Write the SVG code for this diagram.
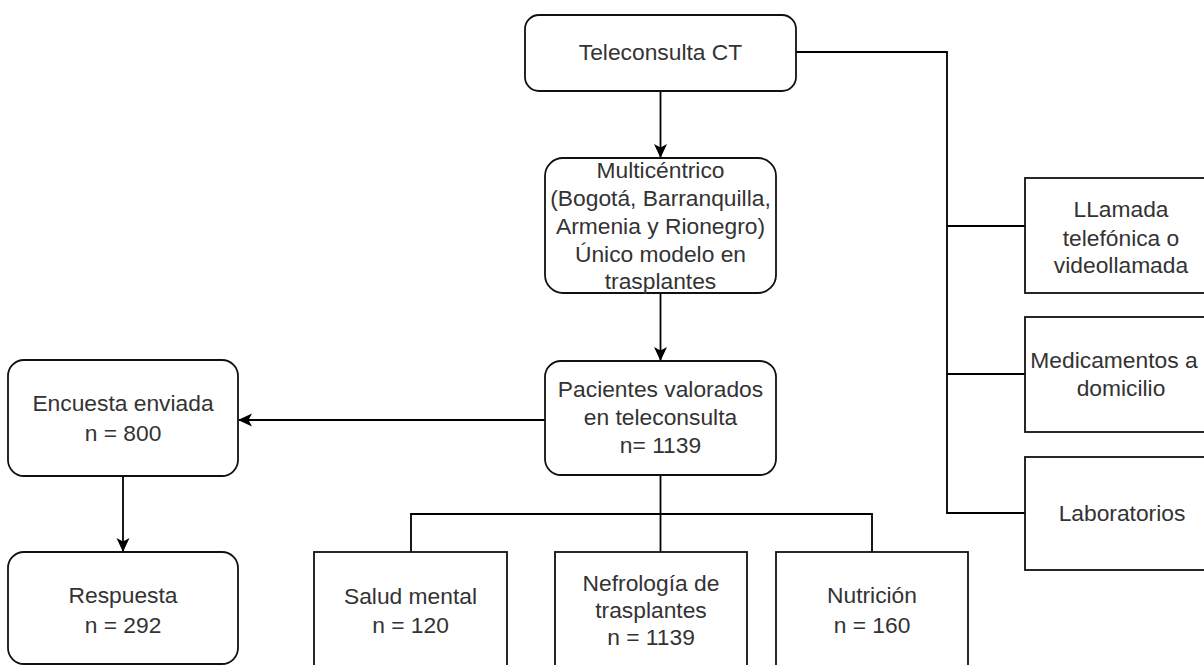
<svg xmlns="http://www.w3.org/2000/svg" width="1204" height="665" viewBox="0 0 1204 665">
<defs>
<marker id="arr" markerWidth="14" markerHeight="14" refX="13" refY="7" orient="auto" markerUnits="userSpaceOnUse">
<path d="M0,0.5 L14,7 L0,13.5 L3.5,7 Z" fill="#000"/>
</marker>
<style>
.box{fill:#fff;stroke:#111;stroke-width:1.8}
.ln{fill:none;stroke:#000;stroke-width:1.8}
text{font-family:"Liberation Sans",Arial,sans-serif;font-size:22.8px;fill:#333;text-anchor:middle}
</style>
</defs>
<rect width="1204" height="665" fill="#fff"/>
<g id="connectors">
<path class="ln" d="M660.5,91 V157" marker-end="url(#arr)"/>
<path class="ln" d="M660.5,293 V360" marker-end="url(#arr)"/>
<path class="ln" d="M545,420 H239" marker-end="url(#arr)"/>
<path class="ln" d="M123,476 V551" marker-end="url(#arr)"/>
<path class="ln" d="M796,52 H947 V513 H1025"/>
<path class="ln" d="M947,226 H1025"/>
<path class="ln" d="M947,374 H1025"/>
<path class="ln" d="M660.5,475 V552"/>
<path class="ln" d="M411,552 V514 H872 V552"/>
</g>
<g id="teleconsulta">
<rect class="box" x="525" y="15" width="271" height="76" rx="14"/>
<text x="660.5" y="60">Teleconsulta CT</text>
</g>
<g id="multicentrico">
<rect class="box" x="545" y="158" width="231" height="135" rx="18"/>
<text x="660.5" y="178">Multicéntrico</text>
<text x="660.5" y="206">(Bogotá, Barranquilla,</text>
<text x="660.5" y="234">Armenia y Rionegro)</text>
<text x="660.5" y="262">Único modelo en</text>
<text x="660.5" y="289">trasplantes</text>
</g>
<g id="pacientes">
<rect class="box" x="545" y="361" width="231" height="114" rx="16"/>
<text x="660.5" y="397">Pacientes valorados</text>
<text x="660.5" y="425">en teleconsulta</text>
<text x="660.5" y="453">n= 1139</text>
</g>
<g id="encuesta">
<rect class="box" x="8" y="360" width="230" height="116" rx="16"/>
<text x="123" y="411">Encuesta enviada</text>
<text x="123" y="441">n = 800</text>
</g>
<g id="respuesta">
<rect class="box" x="8" y="552" width="230" height="112" rx="16"/>
<text x="123" y="603">Respuesta</text>
<text x="123" y="633">n = 292</text>
</g>
<g id="salud">
<rect class="box" x="314" y="552" width="193" height="130"/>
<text x="410.5" y="604">Salud mental</text>
<text x="410.5" y="633">n = 120</text>
</g>
<g id="nefrologia">
<rect class="box" x="555" y="552" width="192" height="130"/>
<text x="651" y="591">Nefrología de</text>
<text x="651" y="618">trasplantes</text>
<text x="651" y="645">n = 1139</text>
</g>
<g id="nutricion">
<rect class="box" x="776" y="552" width="192" height="130"/>
<text x="872" y="603">Nutrición</text>
<text x="872" y="633">n = 160</text>
</g>
<g id="llamada">
<rect class="box" x="1025" y="178" width="192" height="115"/>
<text x="1121" y="217">LLamada</text>
<text x="1121" y="246">telefónica o</text>
<text x="1121" y="273">videollamada</text>
</g>
<g id="medicamentos">
<rect class="box" x="1025" y="317" width="192" height="115"/>
<text x="1114" y="368">Medicamentos a</text>
<text x="1121" y="396">domicilio</text>
</g>
<g id="laboratorios">
<rect class="box" x="1025" y="457" width="192" height="113"/>
<text x="1122" y="521">Laboratorios</text>
</g>
</svg>
